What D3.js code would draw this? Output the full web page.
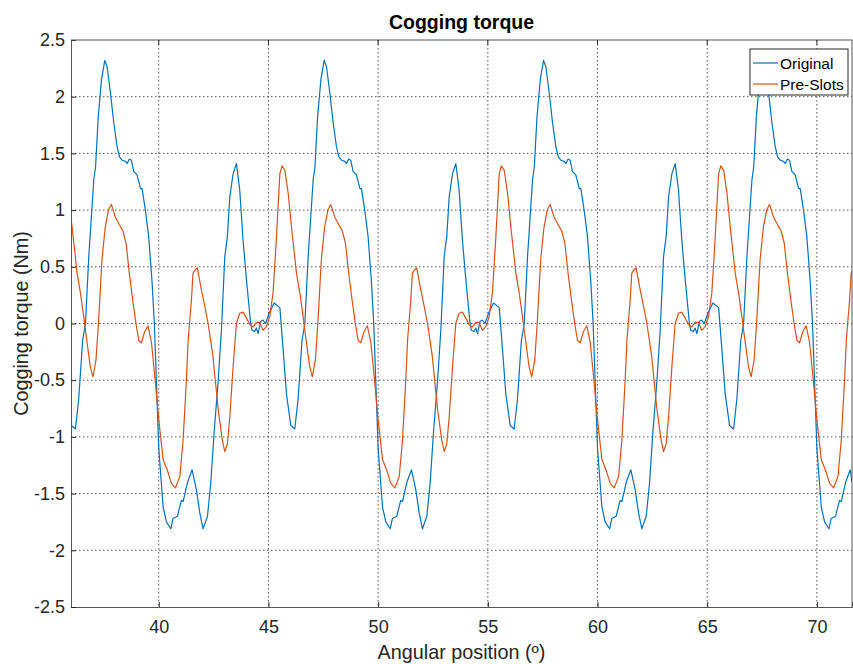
<!DOCTYPE html>
<html>
<head>
<meta charset="utf-8">
<script src="https://cdn.jsdelivr.net/npm/d3@7"></script>
<style>
  body { margin: 0; background: #fff; }
  svg { font-family: "Liberation Sans", Arial, Helvetica, sans-serif; }
</style>
</head>
<body>
<div id="chart"></div>
<script>
// values (angle in degrees, torque in Nm)
const origAngle = [
  36.00, 36.02, 36.20, 36.35, 36.53, 36.66, 36.81, 37.04, 37.12, 37.24, 37.39, 37.54, 37.65, 37.80, 37.95,
  38.10, 38.21, 38.33, 38.48, 38.56, 38.66, 38.75, 38.86, 39.01, 39.17, 39.24, 39.39, 39.54, 39.69, 39.80, 39.90,
  40.00, 40.20, 40.35, 40.55, 40.65, 40.85, 41.03, 41.11, 41.31, 41.52, 41.72, 41.87, 42.02, 42.22, 42.37,
  42.52, 42.71, 42.86, 43.01, 43.13, 43.24, 43.39, 43.54, 43.69, 43.84, 44.00, 44.19, 44.25, 44.37, 44.45,
  44.53, 44.65, 44.75, 44.87, 45.03, 45.26, 45.52, 45.67, 45.82, 46.02, 46.20, 46.35, 46.53, 46.66, 46.81,
  47.04, 47.12, 47.24, 47.39, 47.54, 47.65, 47.80, 47.95, 48.10, 48.21, 48.33, 48.48, 48.56, 48.66, 48.75,
  48.86, 49.01, 49.17, 49.24, 49.39, 49.54, 49.69, 49.80, 49.90,
  50.00, 50.20, 50.35, 50.55, 50.65, 50.85, 51.03, 51.11, 51.31, 51.52, 51.72, 51.87, 52.02, 52.22, 52.37,
  52.52, 52.71, 52.86, 53.01, 53.13, 53.24, 53.39, 53.54, 53.69, 53.84, 54.00, 54.19, 54.25, 54.37, 54.45,
  54.53, 54.65, 54.75, 54.87, 55.03, 55.26, 55.52, 55.67, 55.82, 56.02, 56.20, 56.35, 56.53, 56.66, 56.81,
  57.04, 57.12, 57.24, 57.39, 57.54, 57.65, 57.80, 57.95, 58.10, 58.21, 58.33, 58.48, 58.56, 58.66, 58.75,
  58.86, 59.01, 59.17, 59.24, 59.39, 59.54, 59.69, 59.80, 59.90,
  60.00, 60.20, 60.35, 60.55, 60.65, 60.85, 61.03, 61.11, 61.31, 61.52, 61.72, 61.87, 62.02, 62.22, 62.37,
  62.52, 62.71, 62.86, 63.01, 63.13, 63.24, 63.39, 63.54, 63.69, 63.84, 64.00, 64.19, 64.25, 64.37, 64.45,
  64.53, 64.65, 64.75, 64.87, 65.03, 65.26, 65.52, 65.67, 65.82, 66.02, 66.20, 66.35, 66.53, 66.66, 66.81,
  67.04, 67.12, 67.24, 67.39, 67.54, 67.65, 67.80, 67.95, 68.10, 68.21, 68.33, 68.48, 68.56, 68.66, 68.75,
  68.86, 69.01, 69.17, 69.24, 69.39, 69.54, 69.69, 69.80, 69.90,
  70.00, 70.20, 70.35, 70.55, 70.65, 70.85, 71.03, 71.11, 71.31, 71.52, 71.60
];
const origTorque = [
  -0.88, -0.90, -0.93, -0.67, -0.15, 0.00, 0.59, 1.27, 1.38, 1.82, 2.15, 2.32, 2.26, 2.03, 1.77,
  1.56, 1.47, 1.44, 1.43, 1.41, 1.45, 1.44, 1.34, 1.31, 1.19, 1.19, 1.00, 0.77, 0.38, 0.00, -0.55,
  -1.10, -1.62, -1.75, -1.81, -1.72, -1.70, -1.56, -1.57, -1.40, -1.29, -1.47, -1.67, -1.81, -1.70, -1.41,
  -0.97, -0.50, -0.05, 0.59, 0.77, 1.12, 1.32, 1.41, 1.18, 0.74, 0.38, 0.00, -0.06, -0.07, -0.04,
  -0.09, 0.02, 0.03, 0.00, 0.09, 0.18, 0.14, -0.23, -0.62, -0.90, -0.93, -0.67, -0.15, 0.00, 0.59,
  1.27, 1.38, 1.82, 2.15, 2.32, 2.26, 2.03, 1.77, 1.56, 1.47, 1.44, 1.43, 1.41, 1.45, 1.44,
  1.34, 1.31, 1.19, 1.19, 1.00, 0.77, 0.38, 0.00, -0.55,
  -1.10, -1.62, -1.75, -1.81, -1.72, -1.70, -1.56, -1.57, -1.40, -1.29, -1.47, -1.67, -1.81, -1.70, -1.41,
  -0.97, -0.50, -0.05, 0.59, 0.77, 1.12, 1.32, 1.41, 1.18, 0.74, 0.38, 0.00, -0.06, -0.07, -0.04,
  -0.09, 0.02, 0.03, 0.00, 0.09, 0.18, 0.14, -0.23, -0.62, -0.90, -0.93, -0.67, -0.15, 0.00, 0.59,
  1.27, 1.38, 1.82, 2.15, 2.32, 2.26, 2.03, 1.77, 1.56, 1.47, 1.44, 1.43, 1.41, 1.45, 1.44,
  1.34, 1.31, 1.19, 1.19, 1.00, 0.77, 0.38, 0.00, -0.55,
  -1.10, -1.62, -1.75, -1.81, -1.72, -1.70, -1.56, -1.57, -1.40, -1.29, -1.47, -1.67, -1.81, -1.70, -1.41,
  -0.97, -0.50, -0.05, 0.59, 0.77, 1.12, 1.32, 1.41, 1.18, 0.74, 0.38, 0.00, -0.06, -0.07, -0.04,
  -0.09, 0.02, 0.03, 0.00, 0.09, 0.18, 0.14, -0.23, -0.62, -0.90, -0.93, -0.67, -0.15, 0.00, 0.59,
  1.27, 1.38, 1.82, 2.15, 2.32, 2.26, 2.03, 1.77, 1.56, 1.47, 1.44, 1.43, 1.41, 1.45, 1.44,
  1.34, 1.31, 1.19, 1.19, 1.00, 0.77, 0.38, 0.00, -0.55,
  -1.10, -1.62, -1.75, -1.81, -1.72, -1.70, -1.56, -1.57, -1.40, -1.29, -1.40
];

const preAngle = [
  36.00, 36.05, 36.28, 36.43, 36.58, 36.66, 36.88, 37.00, 37.14, 37.26, 37.41, 37.56, 37.71, 37.84, 38.02,
  38.21, 38.36, 38.51, 38.66, 38.81, 38.96, 39.09, 39.21, 39.36, 39.51, 39.67, 39.85,
  40.00, 40.20, 40.42, 40.58, 40.76, 40.96, 41.11, 41.26, 41.34, 41.49, 41.56, 41.64, 41.76, 41.92, 42.10,
  42.25, 42.47, 42.71, 42.90, 43.01, 43.13, 43.24, 43.39, 43.54, 43.69, 43.84, 43.99, 44.15, 44.30, 44.45,
  44.60, 44.75, 44.90, 45.06, 45.21, 45.36, 45.52, 45.62, 45.75, 45.90, 46.05, 46.28, 46.43, 46.58, 46.66,
  46.88, 47.00, 47.14, 47.26, 47.41, 47.56, 47.71, 47.84, 48.02, 48.21, 48.36, 48.51, 48.66, 48.81, 48.96,
  49.09, 49.21, 49.36, 49.51, 49.67, 49.85,
  50.00, 50.20, 50.42, 50.58, 50.76, 50.96, 51.11, 51.26, 51.34, 51.49, 51.56, 51.64, 51.76, 51.92, 52.10,
  52.25, 52.47, 52.71, 52.90, 53.01, 53.13, 53.24, 53.39, 53.54, 53.69, 53.84, 53.99, 54.15, 54.30, 54.45,
  54.60, 54.75, 54.90, 55.06, 55.21, 55.36, 55.52, 55.62, 55.75, 55.90, 56.05, 56.28, 56.43, 56.58, 56.66,
  56.88, 57.00, 57.14, 57.26, 57.41, 57.56, 57.71, 57.84, 58.02, 58.21, 58.36, 58.51, 58.66, 58.81, 58.96,
  59.09, 59.21, 59.36, 59.51, 59.67, 59.85,
  60.00, 60.20, 60.42, 60.58, 60.76, 60.96, 61.11, 61.26, 61.34, 61.49, 61.56, 61.64, 61.76, 61.92, 62.10,
  62.25, 62.47, 62.71, 62.90, 63.01, 63.13, 63.24, 63.39, 63.54, 63.69, 63.84, 63.99, 64.15, 64.30, 64.45,
  64.60, 64.75, 64.90, 65.06, 65.21, 65.36, 65.52, 65.62, 65.75, 65.90, 66.05, 66.28, 66.43, 66.58, 66.66,
  66.88, 67.00, 67.14, 67.26, 67.41, 67.56, 67.71, 67.84, 68.02, 68.21, 68.36, 68.51, 68.66, 68.81, 68.96,
  69.09, 69.21, 69.36, 69.51, 69.67, 69.85,
  70.00, 70.20, 70.42, 70.58, 70.76, 70.96, 71.11, 71.26, 71.34, 71.49, 71.56, 71.60
];
const preTorque = [
  0.92, 0.85, 0.44, 0.27, 0.06, -0.06, -0.38, -0.47, -0.32, 0.03, 0.56, 0.85, 1.00, 1.05, 0.94,
  0.87, 0.82, 0.71, 0.44, 0.21, 0.00, -0.15, -0.17, -0.07, -0.02, -0.17, -0.53,
  -0.85, -1.20, -1.31, -1.41, -1.45, -1.35, -1.03, -0.50, -0.15, 0.21, 0.44, 0.47, 0.49, 0.32, 0.15,
  0.00, -0.29, -0.76, -1.03, -1.13, -1.06, -0.82, -0.38, 0.00, 0.09, 0.10, 0.05, -0.01, -0.03, 0.01,
  0.01, -0.06, -0.03, 0.06, 0.27, 0.74, 1.32, 1.39, 1.35, 1.15, 0.85, 0.44, 0.27, 0.06, -0.06,
  -0.38, -0.47, -0.32, 0.03, 0.56, 0.85, 1.00, 1.05, 0.94, 0.87, 0.82, 0.71, 0.44, 0.21, 0.00,
  -0.15, -0.17, -0.07, -0.02, -0.17, -0.53,
  -0.85, -1.20, -1.31, -1.41, -1.45, -1.35, -1.03, -0.50, -0.15, 0.21, 0.44, 0.47, 0.49, 0.32, 0.15,
  0.00, -0.29, -0.76, -1.03, -1.13, -1.06, -0.82, -0.38, 0.00, 0.09, 0.10, 0.05, -0.01, -0.03, 0.01,
  0.01, -0.06, -0.03, 0.06, 0.27, 0.74, 1.32, 1.39, 1.35, 1.15, 0.85, 0.44, 0.27, 0.06, -0.06,
  -0.38, -0.47, -0.32, 0.03, 0.56, 0.85, 1.00, 1.05, 0.94, 0.87, 0.82, 0.71, 0.44, 0.21, 0.00,
  -0.15, -0.17, -0.07, -0.02, -0.17, -0.53,
  -0.85, -1.20, -1.31, -1.41, -1.45, -1.35, -1.03, -0.50, -0.15, 0.21, 0.44, 0.47, 0.49, 0.32, 0.15,
  0.00, -0.29, -0.76, -1.03, -1.13, -1.06, -0.82, -0.38, 0.00, 0.09, 0.10, 0.05, -0.01, -0.03, 0.01,
  0.01, -0.06, -0.03, 0.06, 0.27, 0.74, 1.32, 1.39, 1.35, 1.15, 0.85, 0.44, 0.27, 0.06, -0.06,
  -0.38, -0.47, -0.32, 0.03, 0.56, 0.85, 1.00, 1.05, 0.94, 0.87, 0.82, 0.71, 0.44, 0.21, 0.00,
  -0.15, -0.17, -0.07, -0.02, -0.17, -0.53,
  -0.85, -1.20, -1.31, -1.41, -1.45, -1.35, -1.03, -0.50, -0.15, 0.21, 0.44, 0.46
];

const seriesNames = ["Original", "Pre-Slots"];
const seriesColors = ["#0072BD", "#D95319"];
const xTicks = [40, 45, 50, 55, 60, 65, 70];
const yTicks = [-2.5, -2, -1.5, -1, -0.5, 0, 0.5, 1, 1.5, 2, 2.5];

const width = 853, height = 664;
const margin = { top: 40, right: 1, bottom: 57, left: 71 };
const innerWidth = width - margin.left - margin.right,
      innerHeight = height - margin.top - margin.bottom;

const svg = d3.select("#chart").append("svg")
    .attr("width", width)
    .attr("height", height);

const g = svg.append("g")
    .attr("transform", "translate(" + margin.left + "," + margin.top + ")");

const x = d3.scaleLinear().domain([36, 71.6]).range([0, innerWidth]);
const y = d3.scaleLinear().domain([-2.5, 2.5]).range([innerHeight, 0]);

// grid
g.append("g").selectAll("line")
    .data(xTicks)
    .enter().append("line")
    .attr("x1", d => x(d)).attr("x2", d => x(d))
    .attr("y1", 0).attr("y2", innerHeight)
    .attr("stroke", "#555")
    .attr("stroke-width", 1)
    .attr("stroke-dasharray", "1.5,2.5");

g.append("g").selectAll("line")
    .data(yTicks.slice(1, -1))
    .enter().append("line")
    .attr("x1", 0).attr("x2", innerWidth)
    .attr("y1", d => y(d)).attr("y2", d => y(d))
    .attr("stroke", "#555")
    .attr("stroke-width", 1)
    .attr("stroke-dasharray", "1.5,2.5");

// lines
const line = d3.line()
    .x(d => x(d[0]))
    .y(d => y(d[1]));

const seriesData = [
    d3.zip(origAngle, origTorque),
    d3.zip(preAngle, preTorque)
];

g.append("defs").append("clipPath").attr("id", "clip")
    .append("rect").attr("width", innerWidth).attr("height", innerHeight);

g.append("g").attr("clip-path", "url(#clip)")
    .selectAll("path")
    .data(seriesData)
    .enter().append("path")
    .attr("d", line)
    .attr("fill", "none")
    .attr("stroke", (d, i) => seriesColors[i])
    .attr("stroke-width", 1.2)
    .attr("stroke-linejoin", "round");

// axes (MATLAB style: ticks inward)
const axisColor = "#262626";

const xAxis = g.append("g")
    .attr("transform", "translate(0," + innerHeight + ")")
    .call(d3.axisBottom(x).tickValues(xTicks).tickSize(-5).tickPadding(13).tickFormat(d3.format("d")));

const yAxis = g.append("g")
    .call(d3.axisLeft(y).tickValues(yTicks).tickSize(-5).tickPadding(6).tickFormat(d => String(d)));

[xAxis, yAxis].forEach(a => {
    a.select(".domain").attr("stroke", "#555");
    a.selectAll(".tick line").attr("stroke", axisColor);
    a.selectAll(".tick text")
        .attr("fill", axisColor)
        .style("font-size", "18px")
        .style("font-family", "'Liberation Sans', Arial, sans-serif");
});

// top and right box edges
g.append("line")
    .attr("x1", 0).attr("x2", innerWidth).attr("y1", 0).attr("y2", 0)
    .attr("stroke", "#555");
g.append("line")
    .attr("x1", innerWidth).attr("x2", innerWidth).attr("y1", 0).attr("y2", innerHeight)
    .attr("stroke", "#555");

// top ticks
g.append("g").selectAll("line")
    .data(xTicks)
    .enter().append("line")
    .attr("x1", d => x(d)).attr("x2", d => x(d))
    .attr("y1", 0).attr("y2", 5)
    .attr("stroke", axisColor);

// title and labels
svg.append("text")
    .attr("x", margin.left + innerWidth / 2)
    .attr("y", 29)
    .attr("text-anchor", "middle")
    .attr("font-weight", "bold")
    .attr("font-size", "19.5px")
    .attr("fill", "#000")
    .text("Cogging torque");

svg.append("text")
    .attr("x", margin.left + innerWidth / 2)
    .attr("y", 659)
    .attr("text-anchor", "middle")
    .attr("font-size", "19.8px")
    .attr("fill", axisColor)
    .text("Angular position (º)");

svg.append("text")
    .attr("transform", "translate(28," + (margin.top + innerHeight / 2) + ") rotate(-90)")
    .attr("text-anchor", "middle")
    .attr("font-size", "19.8px")
    .attr("fill", axisColor)
    .text("Cogging torque (Nm)");

// legend
const legend = svg.append("g").attr("transform", "translate(750,49)");
legend.append("rect")
    .attr("width", 98).attr("height", 46)
    .attr("fill", "#fff")
    .attr("stroke", "#262626")
    .attr("stroke-width", 1);

seriesNames.forEach((name, i) => {
    const ly = 14 + i * 21;
    legend.append("line")
        .attr("x1", 3).attr("x2", 28)
        .attr("y1", ly).attr("y2", ly)
        .attr("stroke", seriesColors[i])
        .attr("stroke-width", 1.2);
    legend.append("text")
        .attr("x", 30).attr("y", ly + 5.5)
        .attr("font-size", "15.5px")
        .attr("fill", "#000")
        .text(name);
});
</script>
</body>
</html>
